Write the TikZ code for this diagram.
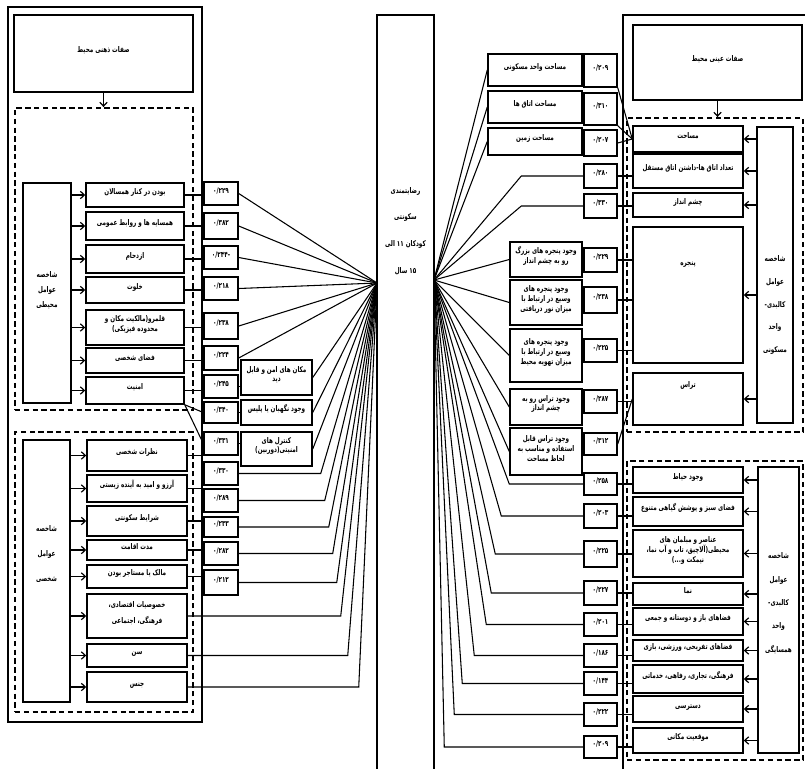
\documentclass[tikz,border=0pt]{standalone}
\usepackage{fontspec}
\TeXXeTstate=1
\newfontfamily\pfont[Script=Arabic,FakeStretch=0.72]{DejaVu Sans}
\usetikzlibrary{fit,arrows.meta}
\newcommand\ff{\pfont\bfseries}
\newcommand\myrl[1]{\beginR #1\endR}
\newcommand\mybox[7][]{\node[box,#1,fit={(#3,#4)(#5,#6)}] (#2) {#7};}
\tikzset{
 box/.style={draw, line width=1.1pt, inner sep=0pt, align=center},
 dbox/.style={draw, line width=1.4pt, dash pattern=on 4pt off 2.6pt, inner sep=0pt},
 myframe/.style={draw, line width=1.5pt, inner sep=0pt},
 conn/.style={line width=0.8pt},
 arr/.style={conn, -{Straight Barb[length=3pt,width=5.5pt,line width=0.9pt]}},
 txt/.style={align=center, inner sep=0pt},
}
\begin{document}
\begin{tikzpicture}[x=0.75pt,y=-0.75pt,font=\ff\fontsize{5.9}{7.2}\selectfont]
\useasboundingbox (0,0) rectangle (805,768);
% ================= LEFT =================
\node[myframe, fit={(8,7)(202,722)}] (frameL) {};
\mybox{topL}{14}{15}{193}{92}{\myrl{صفات ذهنی محیط}}
\node[dbox, fit={(15,108)(193,410)}] (dL1) {};
\draw[arr] (topL.south) -- (topL.south |- dL1.north);
\mybox[font=\ff\fontsize{5.9}{11}\selectfont]{idxL1}{23}{183}{71}{403}{شاخصه\\عوامل\\محیطی}
\mybox{L1}{86}{183}{184}{207}{\myrl{بودن در کنار همسالان}}
\mybox{L2}{86}{212}{184}{240}{\myrl{همسایه ها و روابط عمومی}}
\mybox{L3}{86}{245}{184}{273}{ازدحام}
\mybox{L4}{86}{277}{184}{303}{خلوت}
\mybox{L5}{86}{310}{184}{345}{\myrl{قلمرو(مالکیت مکان و}\\\myrl{محدوده فیزیکی)}}
\mybox{L6}{86}{348}{184}{373}{\myrl{فضای شخصی}}
\mybox{L7}{86}{377}{184}{404}{امنیت}
\foreach \i in {L1,L2,L3,L4,L5,L6,L7} \draw[arr] (idxL1.east |- \i.west) -- (\i.west);
\mybox{NL1}{204}{182}{238}{205}{۰/۲۲۹}
\mybox{NL2}{204}{213}{238}{239}{۰/۳۸۲}
\mybox{NL3}{204}{246}{238}{269}{-۰/۲۴۴}
\mybox{NL4}{204}{277}{238}{300}{۰/۲۱۸}
\mybox{NL5}{204}{313}{238}{339}{۰/۲۳۸}
\mybox{NL6}{204}{346}{238}{370}{۰/۲۲۴}
\mybox{NL7}{204}{375}{238}{398}{۰/۲۴۵}
\mybox{NL8}{204}{402}{238}{423}{۰/۳۴۰}
\mybox{NL9}{204}{432}{238}{455}{۰/۳۳۱}
\mybox{NL10}{204}{462}{238}{485}{۰/۳۳۰}
\mybox{NL11}{204}{489}{238}{512}{۰/۲۸۹}
\mybox{NL12}{204}{517}{238}{537}{۰/۲۳۳}
\mybox{NL13}{204}{542}{238}{565}{۰/۲۸۲}
\mybox{NL14}{204}{570}{238}{595}{۰/۲۱۲}
\mybox{S1}{241}{360}{312}{395}{\myrl{مکان های امن و قابل}\\دید}
\mybox{S2}{241}{400}{312}{425}{\myrl{وجود نگهبان یا پلیس}}
\mybox{S3}{241}{432}{312}{466}{\myrl{کنترل های}\\امنیتی(دوربین)}
\foreach \a/\b in {L1/NL1,L2/NL2,L3/NL3,L4/NL4,L5/NL5,L6/NL6,L7/NL7}
  \draw[conn] (\a.east) -- (\a.east -| \b.west);
\draw[conn] (L7.south east) -- (NL8.west);
\draw[conn] (L7.south east) -- (NL9.west);
\foreach \a/\b in {NL7/S1,NL8/S2,NL9/S3}
  \draw[conn] (\a.east) -- (\a.east -| \b.west);
\coordinate (CL) at (377,283);
\foreach \i in {NL1,NL2,NL3,NL4,NL5,NL6,S1,S2,S3} \draw[conn] (\i.east) -- (CL);
% lower left group
\node[dbox, fit={(15,432)(193,712)}] (dL2) {};
\mybox{idxL2}{23}{440}{70}{702}{}
\node[txt, font=\ff\fontsize{5.9}{19}\selectfont] (idxL2t) at (46.5,554) {شاخصه\\عوامل\\شخصی};
\mybox{P1}{87}{440}{187}{471}{\myrl{نظرات شخصی}}
\mybox{P2}{87}{475}{187}{502}{\myrl{آرزو و امید به آینده زیستی}}
\mybox{P3}{87}{506}{187}{536}{\myrl{شرایط سکونتی}}
\mybox{P4}{87}{540}{187}{560}{\myrl{مدت اقامت}}
\mybox{P5}{87}{565}{187}{588}{\myrl{مالک یا مستاجر بودن}}
\mybox[font=\ff\fontsize{5.9}{12}\selectfont]{P6}{87}{594}{187}{638}{\myrl{خصوصیات اقتصادی،}\\\myrl{فرهنگی، اجتماعی}}
\mybox{P7}{87}{644}{187}{667}{سن}
\mybox{P8}{87}{672}{187}{702}{جنس}
\foreach \i in {P1,P2,P3,P4,P5,P6,P7,P8} \draw[arr] (idxL2.east |- \i.west) -- (\i.west);
\foreach \a/\b in {P1/NL10,P2/NL11,P3/NL12,P4/NL13,P5/NL14}
  \draw[conn] (\a.east) -- (\a.east -| \b.west);
\foreach \i/\d in {NL10/82,NL11/86,NL12/90,NL13/94,NL14/98}
  \draw[conn] (\i.east) -- ++(\d,0) -- (CL);
\foreach \i/\d in {P6/153,P7/160,P8/171}
  \draw[conn] (\i.east) -- ++(\d,0) -- (CL);
% ================= CENTER =================
\node[box, fit={(377,15)(434,775)}] (ctr) {};
\node[txt, font=\ff\fontsize{5.9}{20}\selectfont] (ctrt) at (405.5,231) {رضایتمندی\\سکونتی\\\myrl{کودکان ۱۱ الی}\\\myrl{۱۵ سال}};
% ================= RIGHT =================
\node[myframe, fit={(623,15)(810,778)}] (frameR) {};
\mybox{topR}{633}{25}{802}{100}{\myrl{صفات عینی محیط}}
\node[dbox, fit={(627,118)(803,432)}] (dR1) {};
\draw[arr] (topR.south) -- (topR.south |- dR1.north);
\node[dbox, fit={(627,461)(803,760)}] (dR2) {};
\mybox{idxR1}{757}{127}{793}{423}{}
\node[txt, font=\ff\fontsize{5.9}{17}\selectfont] (idxR1t) at (775,305) {شاخصه\\عوامل\\کالبدی-\\واحد\\مسکونی};
\mybox{idxR2}{758}{467}{799}{753}{}
\node[txt, font=\ff\fontsize{5.9}{17.5}\selectfont] (idxR2t) at (778.5,603) {شاخصه\\عوامل\\کالبدی-\\واحد\\همسایگی};
\mybox{R1}{633}{126}{743}{152}{مساحت}
\mybox{R2}{633}{154}{743}{188}{\myrl{تعداد اتاق ها-داشتن اتاق مستقل}}
\mybox{R3}{633}{193}{743}{217}{\myrl{چشم انداز}}
\mybox{R4}{633}{227}{743}{363}{}
\node[txt] (R4t) at (688,265) {پنجره};
\mybox{R5}{633}{373}{743}{425}{}
\node[txt] (R5t) at (688,385) {تراس};
\mybox{R6}{633}{467}{743}{493}{\myrl{وجود حیاط}}
\mybox{R7}{633}{497}{743}{526}{\myrl{فضای سبز و پوشش گیاهی متنوع}}
\mybox{R8}{633}{530}{743}{577}{\myrl{عناصر و مبلمان های}\\\myrl{محیطی(آلاچیق، تاب و آب نما،}\\\myrl{نیمکت و...)}}
\mybox{R9}{633}{583}{743}{605}{نما}
\mybox{R10}{633}{608}{743}{635}{\myrl{فضاهای باز و دوستانه و جمعی}}
\mybox{R11}{633}{640}{743}{661}{\myrl{فضاهای تفریحی، ورزشی، بازی}}
\mybox{R12}{633}{665}{743}{693}{\myrl{فرهنگی، تجاری، رفاهی، خدماتی}}
\mybox{R13}{633}{696}{743}{722}{دسترسی}
\mybox{R14}{633}{728}{743}{753}{\myrl{موقعیت مکانی}}
\foreach \i in {R1,R2,R3,R4,R5} \draw[arr] (idxR1.west |- \i.east) -- (\i.east);
\foreach \i in {R6,R7,R8,R9,R10,R11,R12,R13,R14} \draw[arr] (idxR2.west |- \i.east) -- (\i.east);
\mybox{n1}{584}{54}{617}{87}{۰/۲۰۹}
\mybox{n2}{584}{93}{617}{125}{۰/۳۱۰}
\mybox{n3}{584}{130}{617}{156}{۰/۲۰۷}
\mybox{n4}{584}{164}{617}{188}{۰/۲۸۰}
\mybox{n5}{584}{194}{617}{218}{۰/۳۳۰}
\mybox{n6}{584}{248}{617}{272}{۰/۲۲۹}
\mybox{n7}{584}{287}{617}{313}{۰/۲۳۸}
\mybox{n8}{584}{339}{617}{362}{۰/۲۲۵}
\mybox{n9}{584}{390}{617}{413}{۰/۲۸۷}
\mybox{n10}{584}{433}{617}{455}{۰/۳۱۲}
\mybox{n11}{584}{473}{617}{495}{۰/۲۵۸}
\mybox{n12}{584}{504}{617}{528}{۰/۲۰۳}
\mybox{n13}{584}{541}{617}{567}{۰/۲۲۵}
\mybox{n14}{584}{581}{617}{605}{۰/۲۲۷}
\mybox{n15}{584}{613}{617}{636}{۰/۲۰۱}
\mybox{n16}{584}{644}{617}{667}{۰/۱۸۶}
\mybox{n17}{584}{672}{617}{695}{۰/۱۴۴}
\mybox{n18}{584}{703}{617}{726}{۰/۲۲۲}
\mybox{n19}{584}{736}{617}{758}{۰/۲۰۹}
\mybox{t1}{488}{54}{582}{86}{\myrl{مساحت واحد مسکونی}}
\mybox{t2}{488}{91}{582}{123}{\myrl{مساحت اتاق ها}}
\mybox{t3}{488}{128}{582}{155}{\myrl{مساحت زمین}}
\mybox{t4}{510}{242}{582}{277}{\myrl{وجود پنجره های بزرگ}\\\myrl{رو به چشم انداز}}
\mybox{t5}{510}{280}{582}{325}{\myrl{وجود پنجره های}\\\myrl{وسیع در ارتباط با}\\\myrl{میزان نور دریافتی}}
\mybox{t6}{510}{329}{582}{382}{\myrl{وجود پنجره های}\\\myrl{وسیع در ارتباط با}\\\myrl{میزان تهویه محیط}}
\mybox{t7}{510}{389}{582}{425}{\myrl{وجود تراس رو به}\\\myrl{چشم انداز}}
\mybox{t8}{510}{428}{582}{475}{\myrl{وجود تراس قابل}\\\myrl{استفاده و مناسب به}\\\myrl{لحاظ مساحت}}
\draw[conn] (n1.south east) -- (R1.west);
\draw[conn] (n2.south east) -- (R1.west);
\draw[conn] (n3.east) -- (R1.west);
\foreach \a/\b in {n4/R2,n5/R3,n6/R4,n7/R4,n8/R4,n9/R5,n11/R6,n12/R7,n13/R8,n14/R9,n15/R10,n16/R11,n17/R12,n18/R13,n19/R14}
  \draw[conn] (\a.east) -- (\a.east -| \b.west);
\draw[conn] (n10.east) -- (R5.west);
\coordinate (CR) at (434,280);
\foreach \i in {t1,t2,t3,t4,t5,t6,t7,t8} \draw[conn] (\i.west) -- (CR);
\foreach \i/\d in {n4/62,n5/62,n11/74,n12/82,n13/88,n14/92,n15/97,n16/109,n17/121,n18/129,n19/139}
  \draw[conn] (\i.west) -- ++(-\d,0) -- (CR);
\end{tikzpicture}
\end{document}
